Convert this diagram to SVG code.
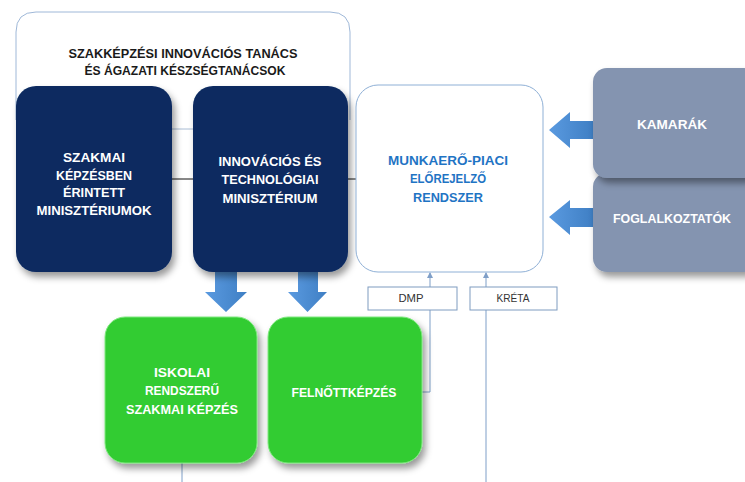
<svg xmlns="http://www.w3.org/2000/svg" width="745" height="482" viewBox="0 0 745 482">
<defs>
<filter id="sh" x="-20%" y="-20%" width="150%" height="150%">
<feDropShadow dx="3" dy="5" stdDeviation="3.5" flood-color="#000" flood-opacity="0.4"/>
</filter>
<marker id="ah" viewBox="0 0 6 6" refX="5" refY="3" markerWidth="6" markerHeight="6" orient="auto" markerUnits="userSpaceOnUse">
<path d="M0,0 L6,3 L0,6 z" fill="#7f9fc8"/>
</marker>
<linearGradient id="ag" x1="0" y1="0" x2="1" y2="0">
<stop offset="0" stop-color="#5a9ae0"/><stop offset="1" stop-color="#3f7fc4"/>
</linearGradient>
</defs>
<style>
.t{font-family:"Liberation Sans",Arial,sans-serif;font-weight:bold;text-anchor:middle}
.w{fill:#ffffff;font-size:12.5px}
.navy{fill:#0b2b61;filter:url(#sh)}
.green{fill:#33cc33;stroke:#7ee87e;stroke-width:1;filter:url(#sh)}
.grey{fill:#8494b0;filter:url(#sh)}
.arr{fill:url(#ag)}
.ln{stroke:#7f9fc8;stroke-width:1;fill:none}
.box{fill:#ffffff;stroke:#7f9cc0;stroke-width:1}
</style>
<rect width="745" height="482" fill="#ffffff"/>

<g id="council">
<path d="M16,120 V32 Q16,12 36,12 H330 Q350,12 350,32 V120" fill="#ffffff" stroke="#9fb8d8" stroke-width="1"/>
<text class="t" x="183" y="58" font-size="12.5" fill="#1a1a1a" textLength="229" lengthAdjust="spacingAndGlyphs">SZAKKÉPZÉSI INNOVÁCIÓS TANÁCS</text>
<text class="t" x="185" y="75" font-size="12.5" fill="#1a1a1a" textLength="201" lengthAdjust="spacingAndGlyphs">ÉS ÁGAZATI KÉSZSÉGTANÁCSOK</text>
</g>

<g id="connectors">
<line x1="172" y1="129" x2="195" y2="129" stroke="#a8bcd4" stroke-width="1"/>
<line x1="158" y1="179" x2="193" y2="179" stroke="#111" stroke-width="1"/>
<line x1="348" y1="179" x2="356" y2="179" stroke="#111" stroke-width="1"/>
<polyline class="ln" points="422,392 430,392 430,310"/>
<line class="ln" x1="430" y1="287" x2="430" y2="273" marker-end="url(#ah)"/>
<line class="ln" x1="486" y1="482" x2="486" y2="310"/>
<line class="ln" x1="486" y1="287" x2="486" y2="273" marker-end="url(#ah)"/>
<line class="ln" x1="182" y1="463" x2="182" y2="482"/>
<polygon class="arr" points="549,130 570,112 570,121 593,121 593,139 570,139 570,148"/>
<polygon class="arr" points="549,217 570,200 570,208 593,208 593,227 570,227 570,235"/>
<polygon class="arr" points="215,272 237,272 237,292 247,292 226,312 205,292 215,292"/>
<polygon class="arr" points="298,272 318,272 318,292 327,292 307.5,312 288,292 298,292"/>
</g>

<g id="ministries">
<rect class="navy" x="16" y="86" width="156" height="186" rx="20"/>
<text class="t w" x="94" y="162" textLength="62" lengthAdjust="spacingAndGlyphs">SZAKMAI</text>
<text class="t w" x="94" y="180" textLength="76" lengthAdjust="spacingAndGlyphs">KÉPZÉSBEN</text>
<text class="t w" x="94" y="197" textLength="62" lengthAdjust="spacingAndGlyphs">ÉRINTETT</text>
<text class="t w" x="94" y="215" textLength="115" lengthAdjust="spacingAndGlyphs">MINISZTÉRIUMOK</text>
</g>

<g id="itm">
<rect class="navy" x="193" y="86" width="155" height="186" rx="20"/>
<text class="t w" x="270" y="166" textLength="103" lengthAdjust="spacingAndGlyphs">INNOVÁCIÓS ÉS</text>
<text class="t w" x="270" y="184" textLength="97" lengthAdjust="spacingAndGlyphs">TECHNOLÓGIAI</text>
<text class="t w" x="270" y="203" textLength="95" lengthAdjust="spacingAndGlyphs">MINISZTÉRIUM</text>
</g>

<g id="forecast">
<rect x="356" y="85" width="187" height="187" rx="22" fill="#ffffff" stroke="#8fb0d6" stroke-width="1"/>
<text class="t" x="448" y="165" font-size="12.5" fill="#1f74c4" textLength="120" lengthAdjust="spacingAndGlyphs">MUNKAERŐ-PIACI</text>
<text class="t" x="448" y="183" font-size="12.5" fill="#1f74c4" textLength="76" lengthAdjust="spacingAndGlyphs">ELŐREJELZŐ</text>
<text class="t" x="448" y="202" font-size="12.5" fill="#1f74c4" textLength="70" lengthAdjust="spacingAndGlyphs">RENDSZER</text>
</g>

<g id="employers">
<rect class="grey" x="593" y="173" width="165" height="99" rx="14"/>
<text class="t w" x="672" y="223" textLength="118" lengthAdjust="spacingAndGlyphs">FOGLALKOZTATÓK</text>
</g>

<g id="chambers">
<rect class="grey" x="593" y="68" width="165" height="110" rx="14"/>
<text class="t w" x="672" y="129" textLength="70" lengthAdjust="spacingAndGlyphs">KAMARÁK</text>
</g>

<g id="dmp">
<rect class="box" x="368" y="287" width="89" height="23"/>
<text x="411" y="302" font-family="Liberation Sans,Arial,sans-serif" font-size="10.5" fill="#333" text-anchor="middle" textLength="25" lengthAdjust="spacingAndGlyphs">DMP</text>
</g>

<g id="kreta">
<rect class="box" x="470" y="287" width="87" height="23"/>
<text x="513" y="302" font-family="Liberation Sans,Arial,sans-serif" font-size="10.5" fill="#333" text-anchor="middle" textLength="33" lengthAdjust="spacingAndGlyphs">KRÉTA</text>
</g>

<g id="school">
<rect class="green" x="105" y="317" width="152" height="146" rx="20"/>
<text class="t w" x="182" y="377" textLength="56" lengthAdjust="spacingAndGlyphs">ISKOLAI</text>
<text class="t w" x="182" y="395" textLength="74" lengthAdjust="spacingAndGlyphs">RENDSZERŰ</text>
<text class="t w" x="182" y="414" textLength="112" lengthAdjust="spacingAndGlyphs">SZAKMAI KÉPZÉS</text>
</g>

<g id="adult">
<rect class="green" x="268" y="317" width="154" height="146" rx="20"/>
<text class="t w" x="344" y="397" textLength="105" lengthAdjust="spacingAndGlyphs">FELNŐTTKÉPZÉS</text>
</g>
</svg>
